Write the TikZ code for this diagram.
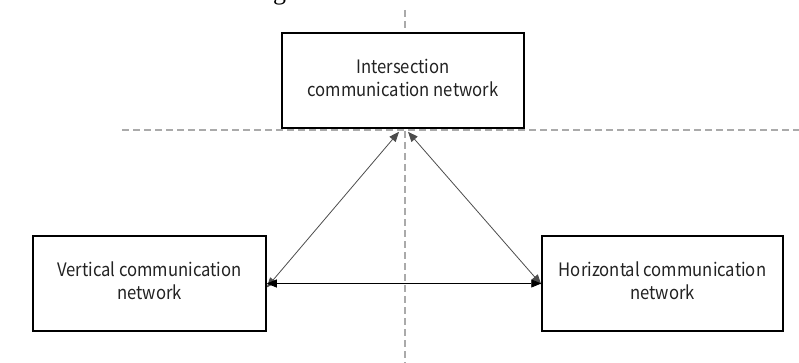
\documentclass[tikz,border=0pt]{standalone}
\usepackage{graphicx}
\usepackage{fontspec}
\setmainfont{Noto Sans CJK SC}
\newfontfamily\capfont{Liberation Serif}
\usetikzlibrary{arrows.meta}
\definecolor{dashgray}{RGB}{170,170,170}
\definecolor{txtgray}{RGB}{35,35,35}
\newcommand\boxlines[1]{\scalebox{0.9}[1]{\begin{tabular}{@{}c@{}}#1\end{tabular}}}
\tikzset{
  netbox/.style={draw=black, line width=1.5pt, fill=white, align=center,
    text=txtgray, font=\fontsize{18.5}{23}\selectfont, inner sep=0pt},
  guide/.style={draw=dashgray, line width=1.2pt, dash pattern=on 7pt off 4pt},
  link/.style={line width=0.8pt, {Triangle[length=10pt,width=8pt]}-{Triangle[length=10pt,width=8pt]}},
}
\begin{document}
\begin{tikzpicture}[x=1pt,y=-1pt]
\useasboundingbox (0,0) rectangle (799,363);
\clip (0,0) rectangle (799,363);
\node[anchor=base, font=\capfont\fontsize{26}{26}\selectfont] (cap) at (279.5,0) {g};
% guides
\coordinate (vtop) at (405,10);
\coordinate (vbot) at (405,363);
\coordinate (hl) at (122,130);
\coordinate (hr) at (799,130);
\draw[guide] (vtop) -- (vbot);
% boxes
\node[netbox, minimum width=242pt, minimum height=95pt] (T) at (403,80.5) {\boxlines{Intersection\\communication network}};
\draw[guide] (hl) -- (hr);
\node[netbox, minimum width=233pt, minimum height=95pt] (L) at (149.5,283.5) {\boxlines{Vertical communication\\network}};
\node[netbox, minimum width=241pt, minimum height=95pt] (R) at (662.5,283.5) {\boxlines{Horizontal communication\\network}};
% links
\draw[link, draw=black!70] ([xshift=-4pt,yshift=-3pt]T.south) -- ([yshift=-4pt]L.east);
\draw[link, draw=black!70] ([xshift=5pt,yshift=-3pt]T.south) -- ([yshift=-1pt]R.west);
\draw[link, draw=black] (L.east) -- (R.west);
\end{tikzpicture}
\end{document}
